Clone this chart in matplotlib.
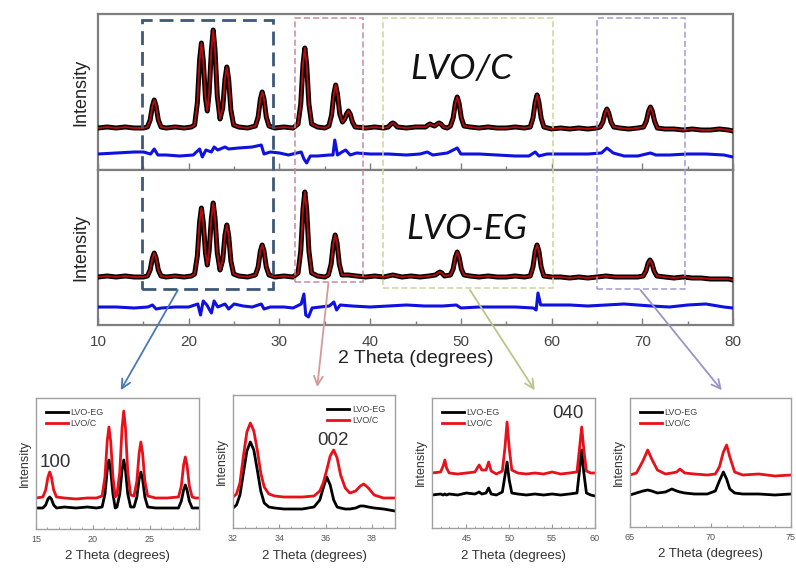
import matplotlib
matplotlib.use("Agg")
import matplotlib.pyplot as plt
from matplotlib.patches import Rectangle, ConnectionPatch
from matplotlib.transforms import blended_transform_factory

plt.rcParams['font.family'] = ['Liberation Sans', 'DejaVu Sans']

# ---------------- data (arbitrary intensity units) ----------------
# LVO/C refinement (top panel): observed pattern and difference curve
c_x = [10, 11, 12, 13, 14, 15, 15.45, 15.75, 16.0, 16.2, 16.4, 16.65, 16.95, 17.5, 18.5, 19.5, 20.3,
       20.65, 20.95, 21.2, 21.4, 21.6, 21.85, 22.05, 22.25, 22.5, 22.7, 22.9, 23.15, 23.45, 23.75, 24.0, 24.2,
       24.4, 24.65, 24.95, 25.5, 26.5, 27.35, 27.65, 27.9, 28.1, 28.3, 28.55, 28.85, 29.5, 30.5, 31.5,
       32.05, 32.35, 32.6, 32.8, 33.0, 33.25, 33.55, 34.2, 35.0, 35.45, 35.75, 36.0, 36.2, 36.4, 36.65, 36.95,
       37.2, 37.4, 37.6, 37.8, 38.05, 38.35, 39.5, 40.5, 41.5, 42.0, 42.3, 42.5, 42.7, 43.0, 44.0, 45.0, 46.1,
       46.4, 46.6, 46.8, 47.1, 47.4, 47.6, 47.8, 48.1, 48.5, 48.85, 49.15, 49.4, 49.6, 49.8, 50.05, 50.35, 51,
       52, 53, 54, 55, 56, 57, 57.65, 57.95, 58.2, 58.4, 58.6, 58.85, 59.15, 60, 61, 62, 63, 64, 65, 65.35,
       65.65, 65.9, 66.1, 66.3, 66.55, 66.85, 67.5, 68.5, 69.5, 70.15, 70.45, 70.7, 70.9, 71.1, 71.35, 71.65,
       72.5, 73.5, 74.5, 75.5, 76.5, 77.5, 78.5, 79.5, 80]
c_obs = [0, 1, 0, 1, 0, 0, 1, 8, 22, 28, 22, 8, 1, 0, 1, 0, 1,
         3, 25, 68, 85, 68, 30, 17, 35, 78, 98, 78, 32, 9, 20, 49, 61,
         49, 18, 3, 1, 0, 2, 11, 29, 36, 29, 11, 2, 0, 1, 0,
         4, 24, 64, 80, 64, 24, 4, 1, 0, 2, 13, 34, 43, 34, 14, 6,
         9, 14, 17, 14, 6, 1, 0, 1, 0, 1, 4, 5, 4, 1, 0, 1, 1,
         3, 4, 3, 2, 4, 5, 4, 1, 0, 2, 10, 25, 31, 25, 10, 2, 1,
         0, 1, 0, 0, 1, 0, 1, 10, 26, 33, 26, 10, 1, -1, 0, -1, 0, -1, 0, 1,
         6, 15, 19, 15, 6, 1, 0, -1, 0, 1, 7, 17, 21, 17, 7, 0,
         -1, -1, -2, -1, -2, -2, -1, -2, -3]
c_dx = [10, 12, 14, 15, 15.8, 16.2, 16.6, 17.5, 19, 20.5, 21.2, 21.5, 21.9, 22.5, 22.8, 23.2, 24.0, 24.4, 25.5, 27.0,
        28.0, 28.3, 29, 30, 31, 32.4, 32.7, 33.0, 33.4, 34.2, 35.5, 35.9, 36.1, 36.4, 36.9, 37.3, 37.8, 38.5, 40,
        42, 44, 45.5, 46.3, 46.9, 48.5, 49.6, 50, 52, 54, 56, 57.5, 58.2, 58.6, 59.5, 62, 64, 65.5, 66.1, 66.8, 68,
        69.5, 70.9, 71.5, 73, 75, 77, 79, 80]
c_diff = [-26, -25, -24, -24, -26, -21, -27, -27, -28, -27, -21, -29, -22, -24, -19, -22, -19, -21, -20, -19,
          -17, -26, -24, -25, -27, -24, -31, -35, -28, -28, -27, -27, -12, -27, -24, -22, -27, -25, -26,
          -26, -27, -26, -24, -27, -25, -20, -26, -26, -27, -28, -28, -24, -28, -26, -26, -26, -25, -20, -25, -28,
          -28, -25, -27, -27, -26, -26, -27, -29]

# LVO-EG refinement (middle panel)
eg_x = [10, 11, 12, 13, 14, 15, 15.45, 15.75, 16.0, 16.2, 16.4, 16.65, 16.95, 17.5, 18.5, 19.5, 20.3,
        20.65, 20.95, 21.2, 21.4, 21.6, 21.85, 22.05, 22.25, 22.5, 22.7, 22.9, 23.15, 23.45, 23.75, 24.0, 24.2,
        24.4, 24.65, 24.95, 25.5, 26.5, 27.35, 27.65, 27.9, 28.1, 28.3, 28.55, 28.85, 29.5, 30.5, 31.5,
        32.05, 32.35, 32.6, 32.8, 33.0, 33.25, 33.55, 34.2, 35.0, 35.4, 35.7, 35.95, 36.15, 36.35, 36.6, 36.9,
        37.6, 38.5, 39.5, 40.5, 41.5, 42.5, 43.5, 44.5, 45.5, 46.5, 47.2, 47.5, 47.7, 47.9, 48.2, 48.85,
        49.15, 49.4, 49.6, 49.8, 50.05, 50.35, 51, 52, 53, 54, 55, 56, 57, 57.65, 57.95, 58.2, 58.4, 58.6, 58.85,
        59.15, 60, 61, 62, 63, 64, 65, 66, 67, 68, 69.5, 70.1, 70.4, 70.65, 70.85, 71.05, 71.3, 71.6,
        72.5, 73.5, 74.5, 75.5, 76.5, 77.5, 78.5, 79.5, 80]
eg_obs = [0, 1, 0, 1, 0, 0, 1, 7, 19, 24, 19, 7, 1, 0, 1, 0, 1,
          3, 21, 55, 69, 55, 24, 12, 26, 59, 74, 59, 24, 7, 17, 42, 52,
          42, 16, 3, 1, 0, 2, 10, 26, 32, 26, 10, 2, 0, 1, 0,
          4, 26, 68, 85, 68, 26, 4, 1, 0, 2, 13, 34, 42, 34, 13, 2,
          2, 1, 0, 1, 0, 2, 0, 1, 0, 1, 2, 4, 5, 4, 1, 2,
          8, 20, 25, 20, 8, 2, 1, 0, 1, 0, 0, 1, 0, 1, 10, 26, 32, 26, 10,
          1, 0, 0, -1, 0, -1, 0, 1, 0, 0, 0, 1, 6, 14, 17, 14, 6, 1,
          0, -1, 0, -1, -1, -2, -2, -2, -3]
eg_dx = [10, 12, 14, 15.5, 16, 16.4, 17, 18.5, 20, 21, 21.3, 21.6, 22.0, 22.5, 22.8, 23.2, 24.0, 24.4, 25, 26, 27,
         28, 28.3, 29, 30.5, 31.5, 32.4, 32.7, 32.9, 33.2, 33.6, 34.5, 35.5, 36.0, 36.3, 36.7, 38, 40, 42, 44, 46,
         48, 49.5, 50, 52, 54, 56, 58.0, 58.3, 58.5, 58.8, 60, 62, 64, 66, 68, 69.5, 71, 73, 75, 77, 79, 80]
eg_diff = [-30, -30, -31, -30, -28, -32, -31, -30, -30, -27, -38, -24, -28, -36, -24, -30, -27, -32, -27, -29, -30,
           -27, -32, -30, -30, -31, -27, -17, -38, -40, -31, -30, -29, -25, -33, -28, -29, -30, -29, -28, -29,
           -29, -28, -31, -30, -30, -30, -31, -33, -16, -28, -28, -28, -29, -28, -27, -28, -29, -30, -28, -27, -30, -31]

# zoomed regions: LVO/C (c) and LVO-EG (eg), offset stacked
z1_x = [15, 15.6, 15.85, 16.05, 16.2, 16.35, 16.55, 16.8, 17.5, 18.5, 19.5, 20.3, 20.8, 21.05, 21.25, 21.4, 21.55,
        21.75, 21.95, 22.1, 22.35, 22.55, 22.7, 22.85, 23.05, 23.3, 23.6, 23.85, 24.05, 24.2, 24.35, 24.55, 24.8,
        25.5, 26.5, 27.5, 27.75, 27.95, 28.1, 28.25, 28.45, 28.7, 29.0, 29.3]
z1_c = [31, 32, 39, 52, 57, 52, 39, 32, 31, 30, 31, 31, 33, 52, 88, 102, 88,
        52, 32, 34, 57, 101, 118, 101, 57, 34, 33, 48, 76, 87, 76, 48, 33,
        31, 31, 32, 43, 64, 72, 64, 43, 32, 31, 31]
z1_eg = [21, 21, 24, 30, 32, 30, 24, 21, 22, 21, 22, 21, 22, 35, 59, 69, 59,
         35, 21, 22, 35, 59, 69, 59, 35, 22, 22, 32, 50, 57, 50, 32, 22,
         21, 21, 21, 28, 39, 44, 39, 28, 21, 21, 21]

z2_x = [32.0, 32.15, 32.3, 32.45, 32.6, 32.75, 32.9, 33.05, 33.2, 33.35, 33.55, 33.8, 34.2, 35.0, 35.5, 35.75,
        35.9, 36.05, 36.2, 36.35, 36.5, 36.65, 36.85, 37.05, 37.3, 37.5, 37.65, 37.85, 38.1, 38.5, 39.0]
z2_c = [31, 34, 45, 72, 96, 105, 97, 78, 55, 41, 34, 32, 31, 31, 32, 37,
        45, 58, 72, 78, 70, 53, 40, 35, 37, 42, 44, 40, 33, 30, 30]
z2_eg = [20, 23, 33, 55, 77, 86, 78, 58, 37, 25, 21, 20, 19, 19, 21, 28,
         40, 51, 43, 28, 21, 20, 19, 19, 20, 22, 22, 21, 20, 19, 17]

z3_x = [41, 42.0, 42.3, 42.5, 42.7, 43.0, 44, 45, 46.0, 46.5, 46.8, 47.3, 47.6, 47.9, 48.5, 49.2, 49.5, 49.75,
        50.0, 50.3, 51, 52, 53, 54, 55, 56, 57.0, 57.9, 58.2, 58.45, 58.7, 59.0, 59.5, 60]
z3_c = [55, 56, 62, 68, 60, 55, 54, 55, 56, 63, 58, 58, 66, 57, 54, 57, 80, 106,
        80, 58, 55, 54, 55, 54, 56, 54, 55, 56, 80, 101, 78, 57, 55, 55]
z3_eg = [33, 34, 33, 34, 33, 34, 33, 35, 34, 36, 34, 35, 40, 34, 33, 36, 52, 66,
         48, 35, 34, 33, 34, 33, 34, 33, 34, 35, 58, 78, 55, 35, 33, 32]

z4_x = [65, 65.4, 65.8, 66.1, 66.35, 66.7, 67.2, 67.6, 67.9, 68.1, 68.4, 69, 69.8, 70.3, 70.55, 70.8, 71.0, 71.2,
        71.5, 72, 73, 74, 75]
z4_c = [52, 54, 66, 77, 68, 57, 53, 54, 55, 58, 54, 53, 52, 53, 60, 75, 82, 70, 55, 52, 53, 51, 52]
z4_eg = [32, 34, 36, 37, 36, 34, 35, 38, 36, 35, 34, 33, 33, 36, 46, 55, 48, 38, 34, 33, 33, 32, 33]

main_ticks = [10, 20, 30, 40, 50, 60, 70, 80]

# ---------------- figure ----------------
fig = plt.figure(figsize=(7.96, 5.68), dpi=100)
W, H = 796.0, 568.0

def fa(l, t, r, b):
    return [l / W, 1 - b / H, (r - l) / W, (b - t) / H]

frame_col = '#7f7f7f'
tick_col = '#444444'

ax1 = fig.add_axes(fa(98, 14, 733, 170))
ax2 = fig.add_axes(fa(98, 170, 733, 325))

for ax, x, y, dx, dy, ylim in [(ax1, c_x, c_obs, c_dx, c_diff, (-42, 114)),
                               (ax2, eg_x, eg_obs, eg_dx, eg_diff, (-48, 107))]:
    ax.plot(x, y, color='black', lw=3.6, solid_joinstyle='round', zorder=3)
    ax.plot(x, y, color='#d01010', lw=1.4, alpha=0.85, zorder=4)
    ax.plot(dx, dy, color='#1010e0', lw=2.2, zorder=3)
    ax.set_xlim(10, 80)
    ax.set_ylim(*ylim)
    ax.set_yticks([])
    ax.set_xticks(main_ticks)
    ax.set_xticks([15, 25, 35, 45, 55, 65, 75], minor=True)
    ax.tick_params(axis='x', which='both', direction='in', color=frame_col, width=1.0)
    ax.tick_params(axis='x', which='major', length=5)
    ax.tick_params(axis='x', which='minor', length=3)
    ax.set_ylabel('Intensity', fontsize=13, labelpad=6, color='#222222')
    for s in ax.spines.values():
        s.set_color(frame_col)
        s.set_linewidth(1.6)

ax1.tick_params(axis='x', labelbottom=False)
ax2.tick_params(axis='x', labelsize=11, labelcolor=tick_col, pad=7)
ax2.set_xlabel('2 Theta (degrees)', fontsize=14, labelpad=1, color='#222222')

ax1.text(0.573, 0.645, 'LVO/C', transform=ax1.transAxes, fontsize=25.5, style='italic',
         family='Lato', ha='center', va='center', color='#111111')
ax2.text(0.58, 0.62, 'LVO-EG', transform=ax2.transAxes, fontsize=25.5, style='italic',
         family='Lato', ha='center', va='center', color='#111111')

# dashed boxes
bt = blended_transform_factory(ax1.transData, fig.transFigure)
boxes = [(14.8, 29.3, 20, 289, '#3d5878', 2.0, (5, 2.5)),
         (31.7, 39.2, 18, 282, '#c98a98', 1.1, (4, 2)),
         (41.4, 60.2, 18, 288, '#cfd39a', 1.1, (4, 2)),
         (65.0, 74.7, 18, 289, '#a39ad0', 1.1, (4, 2))]
for x0, x1, t, b, col, lw, dash in boxes:
    r = Rectangle((x0, 1 - b / H), x1 - x0, (b - t) / H, transform=bt, fill=False,
                  edgecolor=col, lw=lw, linestyle=(0, dash), clip_on=False, zorder=6)
    fig.add_artist(r)

# insets
ins_specs = [
    (fa(36, 398, 199, 529), z1_x, z1_c, z1_eg, (15, 29.3), (0, 131), [15, 20, 25], 'upper left', '100', (0.025, 0.51)),
    (fa(233, 395, 395, 528), z2_x, z2_c, z2_eg, (32, 39), (0, 133), [32, 34, 36, 38], 'upper right', '002', (0.52, 0.66)),
    (fa(432, 398, 595, 528), z3_x, z3_c, z3_eg, (41, 60), (0, 130), [45, 50, 55, 60], 'upper left', '040', (0.74, 0.88)),
    (fa(630, 398, 791, 527), z4_x, z4_c, z4_eg, (65, 75), (0, 129), [65, 70, 75], 'upper left', None, None),
]
insets = []
for rect, x, yc, yeg, xl, yl, ticks, loc, lab, labpos in ins_specs:
    ax = fig.add_axes(rect)
    ax.plot(x, yeg, color='black', lw=2.0, label='LVO-EG')
    ax.plot(x, yc, color='#e8101a', lw=2.0, label='LVO/C')
    ax.set_xlim(*xl)
    ax.set_ylim(*yl)
    ax.set_yticks([])
    ax.set_xticks(ticks)
    ax.minorticks_on()
    ax.tick_params(axis='y', which='both', left=False)
    ax.tick_params(axis='x', which='both', direction='in', color='#999999', labelsize=6.5,
                   labelcolor='#555555', pad=4)
    ax.tick_params(axis='x', which='major', length=3)
    ax.tick_params(axis='x', which='minor', length=1.5)
    ax.set_xlabel('2 Theta (degrees)', fontsize=9.5, color='#333333', labelpad=5)
    ax.set_ylabel('Intensity', fontsize=9, color='#333333', labelpad=4)
    for s in ax.spines.values():
        s.set_color('#a0a0a0')
        s.set_linewidth(1.0)
    leg = ax.legend(loc=loc, fontsize=6.5, frameon=False, handlelength=2.4, handletextpad=0.3,
                    labelspacing=0.25, borderaxespad=0.7)
    for t in leg.get_texts():
        t.set_color('#444444')
    if lab:
        ax.text(labpos[0], labpos[1], lab, transform=ax.transAxes, fontsize=13.5,
                color='#333333', ha='left', va='center')
    insets.append(ax)

# arrows from boxes to insets
bt2 = blended_transform_factory(ax2.transData, fig.transFigure)
arrows = [(18.8, 290, insets[0], (0.52, 1.06), '#4a7ab5'),
          (35.4, 283, insets[1], (0.52, 1.06), '#d49a9a'),
          (51.0, 290, insets[2], (0.63, 1.06), '#bcc48a'),
          (69.8, 290, insets[3], (0.57, 1.06), '#9a94c8')]
for xd, yp, ax, xyb, col in arrows:
    cp = ConnectionPatch(xyA=(xd, 1 - yp / H), coordsA=bt2, xyB=xyb, coordsB=ax.transAxes,
                         arrowstyle='->', color=col, lw=1.3, mutation_scale=16, zorder=7)
    fig.add_artist(cp)

fig.savefig('out.png', dpi=100)
